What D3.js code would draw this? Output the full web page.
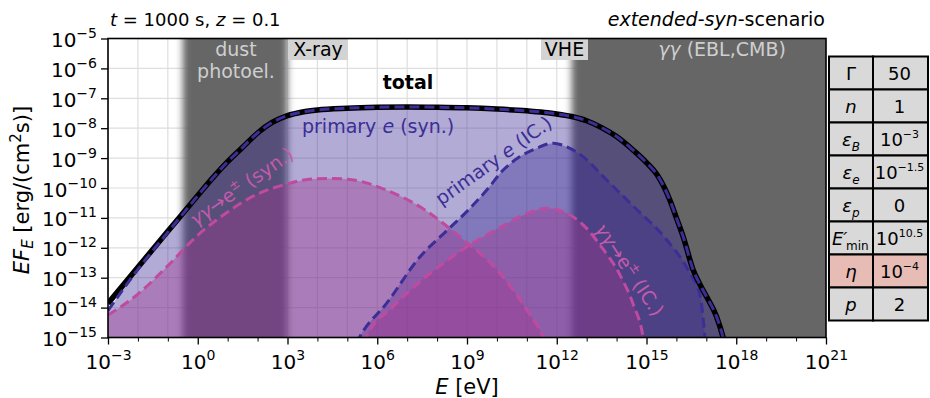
<!DOCTYPE html>
<html>
<head>
<meta charset="utf-8">
<script src="https://cdn.jsdelivr.net/npm/d3@7"></script>
<style>
  html, body { margin: 0; padding: 0; background: #fff; }
  svg { display: block; font-family: "DejaVu Sans", sans-serif; }
</style>
</head>
<body>
<svg id="chart" width="930" height="398"></svg>
<script>
// Spectral energy distributions: pairs of [log10 E (eV), log10 E·F_E (erg cm^-2 s^-1)]
const totalSED = [
  [-3.0, -13.86], [-2.0, -12.65], [-1.0, -11.45], [0.0, -10.25], [0.5, -9.66],
  [1.0, -9.12], [1.5, -8.64], [2.0, -8.16], [2.5, -7.80], [3.0, -7.58],
  [3.5, -7.46], [4.0, -7.39], [5.0, -7.33], [6.0, -7.30], [7.0, -7.29],
  [8.0, -7.30], [9.0, -7.32], [10.0, -7.36], [11.0, -7.42], [11.7, -7.48],
  [12.5, -7.61], [13.0, -7.75], [13.5, -7.98], [14.0, -8.28], [14.55, -8.73],
  [15.0, -9.15], [15.35, -9.55], [15.78, -10.40], [16.0, -11.0], [16.23, -11.64],
  [16.56, -12.74], [16.8, -13.25], [17.01, -13.64], [17.34, -14.30], [17.56, -15.0],
  [17.65, -15.4]
];
const primarySyn = [
  [-3.0, -14.10], [-2.0, -12.72], [-1.0, -11.48], [0.0, -10.26], [0.5, -9.67],
  [1.0, -9.12], [1.5, -8.64], [2.0, -8.16], [2.5, -7.80], [3.0, -7.58],
  [3.5, -7.46], [4.0, -7.39], [5.0, -7.33], [6.0, -7.30], [7.0, -7.29],
  [8.0, -7.30], [9.0, -7.32], [10.0, -7.36], [11.0, -7.42], [11.7, -7.48],
  [12.5, -7.61], [13.0, -7.75], [13.5, -7.98], [14.0, -8.28], [14.55, -8.73],
  [15.0, -9.15], [15.35, -9.55], [15.78, -10.40], [16.0, -11.0], [16.23, -11.64],
  [16.56, -12.74], [16.8, -13.25], [17.01, -13.64], [17.34, -14.30], [17.56, -15.0],
  [17.65, -15.4]
];
const primaryIC = [
  [5.3, -15.2], [5.42, -14.97], [6.31, -13.86], [7.43, -12.30], [8.3, -11.45],
  [9.1, -10.68], [9.66, -10.07], [10.21, -9.40], [10.77, -8.95], [11.33, -8.67],
  [11.88, -8.50], [12.33, -8.62], [13.01, -9.06], [13.44, -9.50], [14.55, -10.60],
  [15.68, -11.74], [16.45, -12.85], [16.79, -13.60], [16.95, -15.0], [16.98, -15.4]
];
const pairSyn = [
  [-3.0, -14.25], [-2.0, -13.55], [-1.0, -12.60], [0.0, -11.58], [1.0, -10.80],
  [2.0, -10.20], [3.0, -9.86], [3.5, -9.74], [4.0, -9.69], [4.5, -9.68],
  [5.2, -9.73], [6.31, -10.07], [7.43, -10.63], [8.76, -11.63], [10.1, -12.85],
  [11.0, -14.08], [11.55, -15.0], [11.7, -15.4]
];
const pairIC = [
  [5.55, -15.2], [5.64, -14.97], [6.5, -14.0], [7.43, -13.13], [8.3, -12.45],
  [9.1, -11.90], [10.0, -11.38], [10.77, -10.96], [11.3, -10.75], [11.66, -10.68],
  [12.1, -10.75], [12.6, -11.0], [13.0, -11.35], [13.44, -11.90], [14.11, -12.90],
  [14.56, -13.90], [14.89, -15.0], [14.95, -15.4]
];

// Axis ticks (exponents of ten)
const xMajorExps = [-3, 0, 3, 6, 9, 12, 15, 18, 21];
const xMinorExps = d3.range(-3, 22);
const yTickExps = d3.range(-15, -4);

// Shaded windows, log10 E
const bandFrom = [-0.5, 12.5];
const bandTo = [3.0, 22.0];

// Parameter table
const paramSymbols = ["Γ", "n", "ε", "ε", "ε", "E", "η", "p"];
const paramSubs = ["", "", "B", "e", "p", "min", "", ""];
const paramBases = ["50", "1", "10", "10", "0", "10", "10", "2"];
const paramExps = ["", "", "−3", "−1.5", "", "10.5", "−4", ""];
const highlightedRow = 6;

const BLUE = "#3b2e96";
const MAGENTA = "#a0388f";
const MAGENTA_LINE = "#c04a9f";
const LABEL_MAGENTA = "#c45aab";

const m = { l: 108, r: 826, t: 38.5, b: 337.5 };
const x = d3.scaleLog().domain([1e-3, 1e21]).range([m.l, m.r]);
const y = d3.scaleLog().domain([1e-15, 1e-5]).range([m.b, m.t]);

const svg = d3.select("#chart");
const defs = svg.append("defs");
defs.append("clipPath").attr("id", "plotClip")
  .append("rect").attr("x", m.l).attr("y", m.t)
  .attr("width", m.r - m.l).attr("height", m.b - m.t);
const soft = defs.append("filter").attr("id", "soft")
  .attr("x", "-10%").attr("y", "-5%").attr("width", "120%").attr("height", "110%");
soft.append("feGaussianBlur").attr("stdDeviation", "3.5 0");

const plot = svg.append("g").attr("clip-path", "url(#plotClip)");

// grid at every decade
const grid = plot.append("g").attr("stroke", "#dedede").attr("stroke-width", 1.2);
grid.selectAll("line.v").data(xMinorExps).join("line").attr("class", "v")
  .attr("x1", d => x(10 ** d)).attr("x2", d => x(10 ** d))
  .attr("y1", m.t).attr("y2", m.b);
grid.selectAll("line.h").data(yTickExps).join("line").attr("class", "h")
  .attr("y1", d => y(10 ** d)).attr("y2", d => y(10 ** d))
  .attr("x1", m.l).attr("x2", m.r);

// gray windows with soft edges
plot.append("g").attr("filter", "url(#soft)")
  .selectAll("rect").data(bandFrom.map((f, i) => [f, bandTo[i]])).join("rect")
  .attr("x", d => x(10 ** d[0])).attr("width", d => x(10 ** d[1]) - x(10 ** d[0]))
  .attr("y", m.t - 30).attr("height", m.b - m.t + 60)
  .attr("fill", "#666666");

const px = d => x(10 ** d[0]);
const py = d => y(10 ** d[1]);
const area = d3.area().x(px).y0(m.b + 10).y1(py).curve(d3.curveMonotoneX);
const line = d3.line().x(px).y(py).curve(d3.curveMonotoneX);

const fills = [
  [primarySyn, BLUE], [primaryIC, BLUE], [pairSyn, MAGENTA], [pairIC, MAGENTA]
];
fills.forEach(([data, c]) => {
  plot.append("path").attr("d", area(data)).attr("fill", c).attr("fill-opacity", 0.4);
});

const dashed = (data, c) => plot.append("path").attr("d", line(data))
  .attr("fill", "none").attr("stroke", c).attr("stroke-width", 3)
  .attr("stroke-dasharray", "10,5");
dashed(pairSyn, MAGENTA_LINE);
dashed(pairIC, MAGENTA_LINE);
dashed(primaryIC, BLUE);
plot.append("path").attr("d", line(totalSED))
  .attr("fill", "none").attr("stroke", "#000").attr("stroke-width", 5.5);
dashed(primarySyn, BLUE);

// text helpers
function pow(sel, base, exp, size, raise) {
  sel.append("tspan").text(base);
  if (exp) sel.append("tspan").attr("font-size", size).attr("dy", -raise).text(exp);
}

// window labels
svg.append("text").attr("x", 236).attr("y", 56).attr("text-anchor", "middle")
  .attr("font-size", 19).attr("fill", "#cfcfcf").text("dust");
svg.append("text").attr("x", 236).attr("y", 78).attr("text-anchor", "middle")
  .attr("font-size", 19).attr("fill", "#cfcfcf").text("photoel.");
const gg = svg.append("text").attr("x", 722).attr("y", 56).attr("text-anchor", "middle")
  .attr("font-size", 19).attr("fill", "#cfcfcf");
gg.append("tspan").attr("font-style", "italic").text("γγ");
gg.append("tspan").text(" (EBL,CMB)");

function boxLabel(txt, x0, x1) {
  svg.append("rect").attr("x", x0).attr("y", m.t).attr("width", x1 - x0).attr("height", 21.5)
    .attr("fill", "#d3d3d3");
  svg.append("text").attr("x", (x0 + x1) / 2).attr("y", 55.5).attr("text-anchor", "middle")
    .attr("font-size", 19).attr("fill", "#000").text(txt);
}
boxLabel("X-ray", 288, 348);
boxLabel("VHE", 541, 588);

// component labels
svg.append("text").attr("x", 408).attr("y", 89).attr("text-anchor", "middle")
  .attr("font-size", 19).attr("font-weight", "bold").text("total");

const ps = svg.append("text").attr("x", 302).attr("y", 133).attr("font-size", 19).attr("fill", BLUE);
ps.append("tspan").text("primary ");
ps.append("tspan").attr("font-style", "italic").text("e");
ps.append("tspan").text(" (syn.)");

function rotated(cx, cy, angle, color, parts) {
  const t = svg.append("text").attr("transform", `translate(${cx},${cy}) rotate(${angle})`)
    .attr("text-anchor", "middle").attr("y", 6).attr("font-size", 19).attr("fill", color);
  parts(t);
}
rotated(242, 187, -35, LABEL_MAGENTA, t => {
  t.append("tspan").attr("font-style", "italic").text("γγ");
  t.append("tspan").text("→e");
  t.append("tspan").attr("font-size", 13).attr("dy", -8).text("±");
  t.append("tspan").attr("dy", 8).text(" (syn.)");
});
rotated(494, 161, -35.5, BLUE, t => {
  t.append("tspan").text("primary ");
  t.append("tspan").attr("font-style", "italic").text("e");
  t.append("tspan").text(" (IC.)");
});
rotated(629, 270, 56, LABEL_MAGENTA, t => {
  t.append("tspan").attr("font-style", "italic").text("γγ");
  t.append("tspan").text("→e");
  t.append("tspan").attr("font-size", 13).attr("dy", -8).text("±");
  t.append("tspan").attr("dy", 8).text(" (IC.)");
});

// axes
const xAxis = d3.axisBottom(x).tickValues(xMajorExps.map(e => 10 ** e))
  .tickSize(7).tickPadding(5).tickFormat(() => "");
const xg = svg.append("g").attr("transform", `translate(0,${m.b})`).call(xAxis);
xg.select(".domain").remove();
xg.selectAll(".tick line").attr("stroke", "#000").attr("stroke-width", 1.3);
xg.selectAll(".tick text").each(function (d) {
  const t = d3.select(this).attr("font-size", 20).attr("font-family", "DejaVu Sans")
    .attr("fill", "#000").attr("dy", null).attr("y", 31);
  pow(t, "10", String(Math.round(Math.log10(d))).replace("-", "−"), 14, 9);
});
const xMinor = d3.axisBottom(x).tickValues(xMinorExps.filter(e => e % 3 !== 0).map(e => 10 ** e))
  .tickSize(4).tickFormat(() => "");
const xmg = svg.append("g").attr("transform", `translate(0,${m.b})`).call(xMinor);
xmg.select(".domain").remove();
xmg.selectAll(".tick line").attr("stroke", "#000").attr("stroke-width", 1);

const yAxis = d3.axisLeft(y).tickValues(yTickExps.map(e => 10 ** e))
  .tickSize(7).tickPadding(4).tickFormat(() => "");
const yg = svg.append("g").attr("transform", `translate(${m.l},0)`).call(yAxis);
yg.select(".domain").remove();
yg.selectAll(".tick line").attr("stroke", "#000").attr("stroke-width", 1.3);
yg.selectAll(".tick text").each(function (d) {
  const t = d3.select(this).attr("font-size", 20).attr("font-family", "DejaVu Sans")
    .attr("fill", "#000").attr("dy", null).attr("y", 8).attr("x", -11);
  pow(t, "10", String(Math.round(Math.log10(d))).replace("-", "−"), 14, 9);
});

// frame
svg.append("rect").attr("x", m.l).attr("y", m.t).attr("width", m.r - m.l).attr("height", m.b - m.t)
  .attr("fill", "none").attr("stroke", "#000").attr("stroke-width", 1.6);

// axis titles
const yl = svg.append("text").attr("transform", `translate(29,190) rotate(-90)`)
  .attr("text-anchor", "middle").attr("font-size", 21);
yl.append("tspan").attr("font-style", "italic").text("EF");
yl.append("tspan").attr("font-style", "italic").attr("font-size", 15).attr("dy", 4).text("E");
yl.append("tspan").attr("dy", -4).text(" [erg/(cm");
yl.append("tspan").attr("font-size", 15).attr("dy", -8).text("2");
yl.append("tspan").attr("dy", 8).text("s)]");

const xl = svg.append("text").attr("x", (m.l + m.r) / 2).attr("y", 394)
  .attr("text-anchor", "middle").attr("font-size", 21);
xl.append("tspan").attr("font-style", "italic").text("E");
xl.append("tspan").text(" [eV]");

// headings
const h1 = svg.append("text").attr("x", 110).attr("y", 26).attr("font-size", 18);
h1.append("tspan").attr("font-style", "italic").text("t");
h1.append("tspan").text(" = 1000 s, ");
h1.append("tspan").attr("font-style", "italic").text("z");
h1.append("tspan").text(" = 0.1");

const h2 = svg.append("text").attr("x", 825).attr("y", 26).attr("font-size", 19)
  .attr("text-anchor", "end");
h2.append("tspan").attr("font-style", "italic").text("extended");
h2.append("tspan").text("-");
h2.append("tspan").attr("font-style", "italic").text("syn");
h2.append("tspan").text("-scenario");

// parameter table
const tx0 = 829, tx1 = 873, tx2 = 928, ty0 = 56.5, rowH = 33;
const table = svg.append("g");
paramSymbols.forEach((sym, i) => {
  const yTop = ty0 + i * rowH;
  const bg = i === highlightedRow ? "#e6bcb4" : "#d9d9d9";
  table.append("rect").attr("x", tx0).attr("y", yTop).attr("width", tx1 - tx0).attr("height", rowH)
    .attr("fill", bg).attr("stroke", "#000").attr("stroke-width", 2);
  table.append("rect").attr("x", tx1).attr("y", yTop).attr("width", tx2 - tx1).attr("height", rowH)
    .attr("fill", bg).attr("stroke", "#000").attr("stroke-width", 2);
  const cx = (tx0 + tx1) / 2, cy = yTop + rowH / 2 + 7;
  if (sym === "E") {
    // primed energy with a "min" subscript tucked under the prime
    table.append("text").attr("x", 832).attr("y", cy).attr("font-size", 18)
      .attr("font-style", "italic").text("E′");
    table.append("text").attr("x", 846).attr("y", cy + 5).attr("font-size", 12).text(paramSubs[i]);
  } else {
    const st = table.append("text").attr("x", cx).attr("y", cy)
      .attr("text-anchor", "middle").attr("font-size", 18);
    st.append("tspan").attr("font-style", sym === "Γ" ? "normal" : "italic").text(sym);
    if (paramSubs[i]) {
      st.append("tspan").attr("font-size", 12).attr("dy", 5).attr("font-style", "italic").text(paramSubs[i]);
    }
  }
  const vt = table.append("text").attr("x", (tx1 + tx2) / 2 - 1).attr("y", cy)
    .attr("text-anchor", "middle").attr("font-size", 18);
  pow(vt, paramBases[i], paramExps[i], 11, 8);
});
</script>
</body>
</html>
